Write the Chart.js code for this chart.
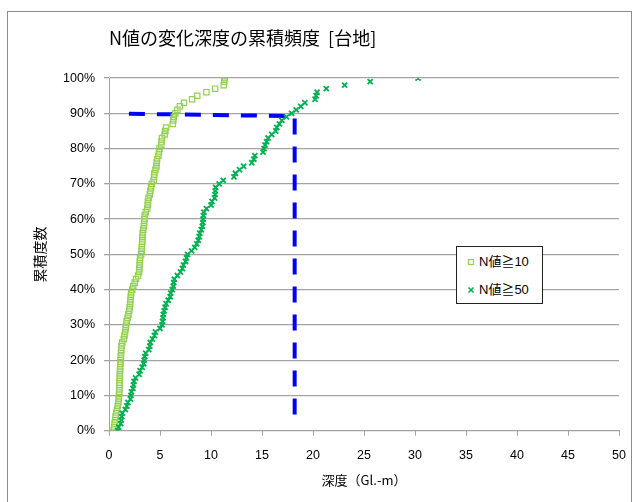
<!DOCTYPE html>
<html>
<head>
<meta charset="utf-8">
<script src="https://cdn.jsdelivr.net/npm/chart.js@4/dist/chart.umd.min.js"></script>
<style>
  html, body { margin: 0; padding: 0; background: #fff; overflow: hidden; }
  #wrap { position: relative; width: 638px; height: 502px; }
  #frame { position: absolute; left: 7px; top: 11px; width: 625px; height: 520px; border: 1px solid #8c8c8c; box-sizing: border-box; }
  canvas { position: absolute; left: 0; top: 0; }
  #legend { position: absolute; left: 456px; top: 246px; width: 87px; height: 58px; border: 1px solid #222; background: #fff; box-sizing: border-box;
            font-family: "Liberation Sans", "Noto Sans CJK JP", sans-serif; font-size: 13px; color: #000; }
  .item { position: absolute; left: 10px; height: 16px; line-height: 16px; display: flex; align-items: center; }
  .item svg { margin-right: 4px; }
</style>
</head>
<body>
<div id="wrap">
  <div id="frame"></div>
  <canvas id="c" width="638" height="502"></canvas>
  <div id="legend"></div>
</div>
<script>
// ---- data ----
const chartTitle = 'N値の変化深度の累積頻度  [台地]';
const xTitle = '深度（Gl.-m）';
const yTitle = '累積度数';
const seriesNames = ['N値≧10', 'N値≧50'];

// cumulative frequency levels (%)
const cumulativePct = [0,1,2,3,4,5,6,7,8,9,10,11,12,13,14,15,16,17,18,19,20,21,22,23,24,25,26,27,28,29,30,31,32,33,34,35,36,37,38,39,40,41,42,43,44,45,46,47,48,49,50,51,52,53,54,55,56,57,58,59,60,61,62,63,64,65,66,67,68,69,70,71,72,73,74,75,76,77,78,79,80,81,82,83,84,85,86,87,88,89,90,91,92,93,94,95,96,97,98,99,100];

// depth (GL-m) of the N>=10 change, sorted
const depthN10 = [0.45,0.5,0.55,0.6,0.65,0.7,0.78,0.85,0.92,0.96,0.98,1.0,1.01,1.02,1.04,1.05,1.07,1.08,1.1,1.12,1.14,1.16,1.18,1.2,1.22,1.3,1.45,1.52,1.58,1.63,1.68,1.73,1.82,1.9,1.98,2.03,2.07,2.1,2.13,2.17,2.28,2.38,2.52,2.65,2.85,2.95,2.97,3.0,3.02,3.05,3.15,3.2,3.22,3.24,3.26,3.28,3.3,3.35,3.42,3.45,3.47,3.5,3.6,3.75,3.8,3.82,3.88,4.0,4.05,4.12,4.2,4.38,4.42,4.45,4.55,4.65,4.68,4.72,4.85,4.9,4.95,5.12,5.15,5.2,5.45,5.52,5.6,6.25,6.3,6.35,6.5,6.7,6.95,7.35,8.15,8.65,9.55,10.4,11.25,11.3,11.35];

// depth (GL-m) of the N>=50 change, sorted
const depthN50 = [0.85,0.95,1.15,1.2,1.25,1.3,1.6,1.75,1.85,2.1,2.15,2.2,2.35,2.4,2.45,2.6,2.95,3.05,3.25,3.4,3.45,3.5,3.6,3.9,4.0,4.05,4.25,4.45,4.55,5.0,5.2,5.25,5.3,5.32,5.4,5.5,5.6,5.8,6.0,6.05,6.2,6.3,6.35,6.4,6.7,7.0,7.2,7.3,7.5,7.6,7.7,8.1,8.4,8.6,8.75,8.85,8.9,9.05,9.15,9.2,9.22,9.25,9.3,9.55,10.0,10.1,10.35,10.4,10.42,10.45,10.8,11.2,12.25,12.4,12.8,13.2,14.0,14.2,14.3,15.1,15.2,15.3,15.45,15.6,15.95,16.35,16.45,16.7,16.95,17.4,17.9,18.35,18.8,19.2,20.2,20.3,20.4,21.3,23.1,25.6,30.3];

// 90% guide line (blue dashed)
const guideX = [1.95, 18.2, 18.2];
const guideY = [89.9, 89.2, 4.5];

const xTicks = [0,5,10,15,20,25,30,35,40,45,50];
const yTicks = [0,10,20,30,40,50,60,70,80,90,100];

// ---- build ----
const pts = (xs, ys) => xs.map((x, i) => ({ x: x, y: ys[i] }));
const FONT = '"Liberation Sans", "Noto Sans CJK JP", sans-serif';
const JFONT = '"Noto Sans CJK JP", "Liberation Sans", sans-serif';
const LIGHT = '#92D050';
const DARK = '#00B050';
const GRID = '#a3a3a3';

new Chart(document.getElementById('c'), {
  type: 'scatter',
  data: {
    datasets: [
      {
        label: 'guide',
        data: pts(guideX, guideY),
        showLine: true,
        borderColor: '#0000FF',
        borderWidth: 4,
        borderDash: [16, 12],
        pointRadius: 0,
        fill: false,
        order: 3
      },
      {
        label: seriesNames[0],
        data: pts(depthN10, cumulativePct),
        pointStyle: 'rect',
        pointRadius: 3.8,
        borderWidth: 1.2,
        borderColor: LIGHT,
        backgroundColor: 'rgba(0,0,0,0)',
        order: 2
      },
      {
        label: seriesNames[1],
        data: pts(depthN50, cumulativePct),
        pointStyle: 'crossRot',
        pointRadius: 3.6,
        borderWidth: 1.8,
        borderColor: DARK,
        backgroundColor: DARK,
        order: 1
      }
    ]
  },
  options: {
    responsive: false,
    animation: false,
    devicePixelRatio: 1,
    layout: { padding: { left: 0, right: 18, top: 0, bottom: 0 } },
    plugins: {
      legend: { display: false },
      tooltip: { enabled: false },
      title: {
        display: true,
        text: chartTitle,
        align: 'start',
        fullSize: false,
        color: '#000',
        font: { family: JFONT, size: 18, weight: 'normal', lineHeight: 1.2 },
        padding: { top: 27, bottom: 29.5 }
      }
    },
    scales: {
      x: {
        type: 'linear',
        min: 0, max: 50,
        afterBuildTicks: (s) => { s.ticks = xTicks.map(v => ({ value: v })); },
        afterFit: (s) => { s.height = 71.3; },
        ticks: { color: '#000', padding: 12, font: { family: FONT, size: 12.5 } },
        grid: { drawOnChartArea: false, drawTicks: true, tickLength: 5, color: GRID, lineWidth: 1 },
        border: { color: GRID, width: 1 },
        title: { display: true, text: xTitle, color: '#000', font: { family: JFONT, size: 13 }, padding: { top: 0, bottom: 14 } }
      },
      y: {
        type: 'linear',
        min: 0, max: 100,
        afterBuildTicks: (s) => { s.ticks = yTicks.map(v => ({ value: v })); },
        afterFit: (s) => { s.width = 109; },
        ticks: { color: '#000', padding: 9, font: { family: FONT, size: 12.5 }, callback: (v) => v + '%' },
        grid: { drawTicks: true, tickLength: 5, color: GRID, lineWidth: 1.3 },
        border: { color: GRID, width: 1 },
        title: { display: true, text: yTitle, color: '#000', font: { family: JFONT, size: 14 }, padding: { top: 31, bottom: 0 } }
      }
    }
  }
});

// legend (HTML overlay)
const lg = document.getElementById('legend');
const markerSvg = [
  '<svg width="8" height="8"><rect x="1.5" y="1.5" width="5" height="5" fill="none" stroke="' + LIGHT + '" stroke-width="1.2"/></svg>',
  '<svg width="8" height="8"><path d="M1.5 1.5 L6.5 6.5 M6.5 1.5 L1.5 6.5" stroke="' + DARK + '" stroke-width="1.6"/></svg>'
];
seriesNames.forEach((n, i) => {
  const d = document.createElement('div');
  d.className = 'item';
  d.style.top = (i === 0 ? 7 : 35) + 'px';
  d.innerHTML = markerSvg[i] + '<span>' + n + '</span>';
  lg.appendChild(d);
});
</script>
</body>
</html>
